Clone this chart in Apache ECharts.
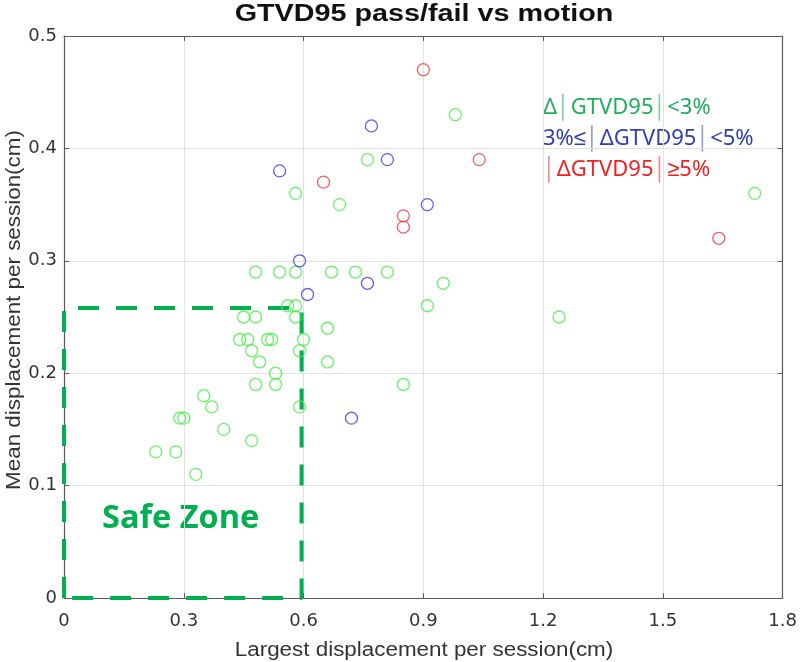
<!DOCTYPE html>
<html>
<head>
<meta charset="utf-8">
<script src="https://cdn.jsdelivr.net/npm/echarts@6/dist/echarts.min.js"></script>
<style>html,body{margin:0;padding:0;background:#fff}#c{width:800px;height:662px}</style>
</head>
<body>
<div id="c"></div>
<script>
// Data: [largest displacement (cm), mean displacement (cm)]
const passLow = [ // |ΔGTVD95| < 3%
  [0.76,0.39],[0.58,0.36],[0.69,0.35],[0.98,0.43],[1.73,0.36],
  [0.48,0.29],[0.54,0.29],[0.58,0.29],[0.67,0.29],[0.73,0.29],[0.81,0.29],
  [0.95,0.28],[0.91,0.26],[0.56,0.26],[0.58,0.26],
  [0.45,0.25],[0.48,0.25],[0.58,0.25],[1.24,0.25],[0.66,0.24],
  [0.44,0.23],[0.46,0.23],[0.51,0.23],[0.52,0.23],[0.60,0.23],
  [0.47,0.22],[0.59,0.22],[0.49,0.21],[0.66,0.21],[0.53,0.20],
  [0.48,0.19],[0.53,0.19],[0.85,0.19],[0.35,0.18],[0.37,0.17],[0.59,0.17],
  [0.29,0.16],[0.30,0.16],[0.40,0.15],[0.47,0.14],[0.23,0.13],[0.28,0.13],[0.33,0.11]
];
const passMid = [ // 3% <= |ΔGTVD95| < 5%
  [0.77,0.42],[0.81,0.39],[0.54,0.38],[0.91,0.35],[0.59,0.30],[0.76,0.28],[0.61,0.27],[0.72,0.16]
];
const fail = [ // |ΔGTVD95| >= 5%
  [0.90,0.47],[0.65,0.37],[1.04,0.39],[0.85,0.34],[0.85,0.33],[1.64,0.32]
];
const safeZone = [0.595, 0.258]; // [max largest, max mean]
const xTicks = [0, 0.3, 0.6, 0.9, 1.2, 1.5, 1.8];
const yTicks = [0, 0.1, 0.2, 0.3, 0.4, 0.5];
const legendLines = [
  [['Δ','g'],['│','gb'],['GTVD95','g'],['│','gb'],['<3%','g']],
  [['3%≤','b'],['│','bb'],['ΔGTVD95','b'],['│','bb'],['<5%','b']],
  [['│','rb'],['ΔGTVD95','r'],['│','rb'],['≥5%','r']]
];

const tickFont = '"DejaVu Sans", "Liberation Sans", sans-serif';
const labFont = '"Liberation Sans", Arial, sans-serif';
const axisCol = '#5a5a5a';
const chart = echarts.init(document.getElementById('c'), null, {renderer:'canvas'});

const safePath = [[0,0],[0,safeZone[1]],[safeZone[0],safeZone[1]],[safeZone[0],0],[0,0]];

function mkScatter(data, color){
  return {type:'scatter', data:data, symbol:'circle', symbolSize:12,
    itemStyle:{color:'rgba(255,255,255,0)', borderColor:color, borderWidth:1.3},
    emphasis:{disabled:true}, z:5};
}

const legendText = legendLines.map(l => l.map(p => '{' + p[1] + '|' + p[0] + '}').join('')).join('\n');

const baseAxis = {
  axisLine:{show:true, onZero:false, lineStyle:{color:axisCol, width:1.2}},
  axisTick:{show:true, inside:true, length:5, lineStyle:{color:axisCol, width:1}},
  splitLine:{show:false}
};
const fmt = ticks => v => { const t = ticks.find(k => Math.abs(k-v)<1e-9); return t===undefined?'':String(t); };
const lf = {fontSize:22, fontFamily:'"Noto Sans", sans-serif'};

chart.setOption({
  animation:false,
  backgroundColor:'#fff',
  grid:{left:64, right:15, top:36, bottom:64},
  xAxis:[
    Object.assign({}, baseAxis, {type:'value', min:0, max:1.8, interval:0.3, position:'bottom',
      axisLabel:{fontFamily:tickFont, fontSize:18, color:'#333', margin:14, formatter:fmt(xTicks)},
      splitLine:{show:true, lineStyle:{color:'#e2e2e2', width:1}}}),
    Object.assign({}, baseAxis, {type:'value', min:0, max:1.8, interval:0.3, position:'top',
      axisLabel:{show:false}})
  ],
  yAxis:[
    Object.assign({}, baseAxis, {type:'value', min:0, max:0.5, interval:0.1, position:'left',
      axisLabel:{fontFamily:tickFont, fontSize:18, color:'#333', margin:7, formatter:fmt(yTicks)},
      splitLine:{show:true, lineStyle:{color:'#e2e2e2', width:1}}}),
    Object.assign({}, baseAxis, {type:'value', min:0, max:0.5, interval:0.1, position:'right',
      axisLabel:{show:false}})
  ],
  series:[
    {type:'line', data:safePath, symbol:'none', clip:false, z:3, silent:true,
      lineStyle:{color:'#00b050', width:4, type:[21,17]}},
    mkScatter(passLow, '#44ee44'),
    mkScatter(passMid, '#3a3ae0'),
    mkScatter(fail, '#ee3a3a')
  ],
  graphic:[
    {type:'text', x:424, y:15, scaleX:1.25, style:{text:'GTVD95 pass/fail vs motion', fill:'#111',
      align:'center', verticalAlign:'middle', font:'bold 23px ' + labFont}},
    {type:'text', left:102, top:502, style:{text:'Safe Zone', fill:'#00b050',
      font:'bold 32.5px "Open Sans", Lato, sans-serif'}},
    {type:'text', left:543, top:92, style:{text:legendText, lineHeight:31,
      rich:{
        g:Object.assign({fill:'#1fae5a'}, lf),
        gb:Object.assign({fill:'#7fcc99'}, lf),
        b:Object.assign({fill:'#3040b0'}, lf),
        bb:Object.assign({fill:'#8f9ad6'}, lf),
        r:Object.assign({fill:'#ee2020'}, lf),
        rb:Object.assign({fill:'#f08a8a'}, lf)
      }}},
    {type:'text', x:14, y:310, rotation:Math.PI/2, scaleX:1.12, style:{text:'Mean displacement per session(cm)',
      fill:'#333', align:'center', verticalAlign:'middle', font:'20px ' + labFont}},
    {type:'text', x:424, y:650, scaleX:1.12, style:{text:'Largest displacement per session(cm)',
      fill:'#333', align:'center', verticalAlign:'middle', font:'20px ' + labFont}}
  ]
});
</script>
</body>
</html>
